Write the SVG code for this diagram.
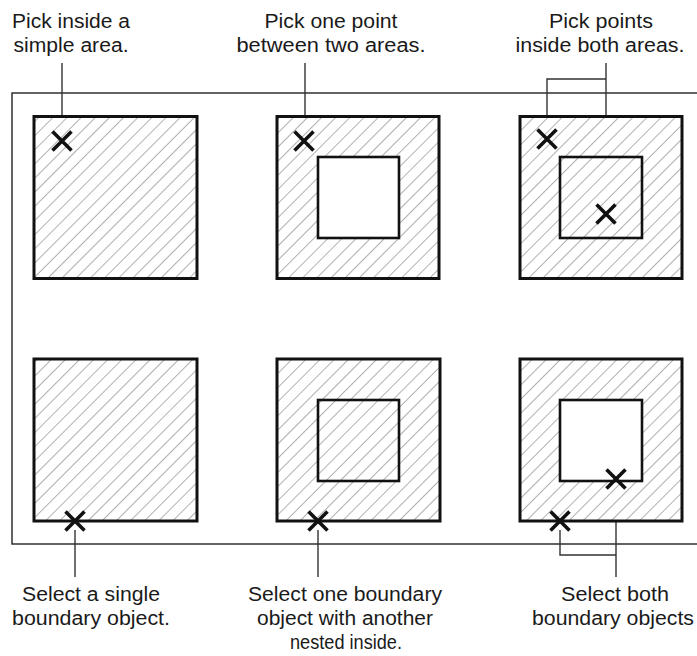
<svg xmlns="http://www.w3.org/2000/svg" width="697" height="656" viewBox="0 0 697 656">
<style>
.lbl{font-family:"Liberation Sans",Arial,sans-serif;font-size:20px;fill:#1a1a1a;text-anchor:middle}
.outer{stroke:#111;stroke-width:3;fill:url(#hatch)}
.hole{stroke:#111;stroke-width:2.6;fill:#fff}
.nest{stroke:#111;stroke-width:2.6;fill:url(#hatch)}
.x{stroke:#111;stroke-width:3.6;stroke-linecap:butt;fill:none}
.lead{stroke:#333;stroke-width:1.4;fill:none}
.frame{stroke:#222;stroke-width:1.4;fill:none}
</style>
<defs>
<pattern id="hatch" patternUnits="userSpaceOnUse" width="10" height="10" patternTransform="rotate(45)">
<rect width="10" height="10" fill="#fff"/>
<line x1="0" y1="-1" x2="0" y2="11" stroke="#6e6e6e" stroke-width="1.1"/>
</pattern>
<path id="xm" d="M-9.5,-9.5L9.5,9.5M-9.5,9.5L9.5,-9.5"/>
</defs>
<rect width="697" height="656" fill="#fff"/>
<rect class="frame" x="12" y="93" width="700" height="451"/>

<g id="connectors">
<path class="lead" d="M62,63V132"/>
<path class="lead" d="M305,63V132"/>
<path class="lead" d="M606,63V205M606,79H547V130"/>
<path class="lead" d="M75,530V577"/>
<path class="lead" d="M318,530V577"/>
<path class="lead" d="M560,530V555H616M616,488V577"/>
</g>

<g id="n1">
<rect class="outer" x="34" y="116.5" width="163" height="162"/>
<use href="#xm" class="x" x="62" y="141"/>
</g>
<g id="n2">
<rect class="outer" x="277" y="116.5" width="162" height="162"/>
<rect class="hole" x="318" y="157" width="81" height="81"/>
<use href="#xm" class="x" x="304" y="141"/>
</g>
<g id="n3">
<rect class="outer" x="520" y="116.5" width="162" height="162"/>
<rect class="nest" x="560" y="157" width="82" height="81"/>
<use href="#xm" class="x" x="547" y="139"/>
<use href="#xm" class="x" x="606" y="214"/>
</g>
<g id="n4">
<rect class="outer" x="34" y="359" width="163" height="162"/>
<use href="#xm" class="x" x="75" y="521"/>
</g>
<g id="n5">
<rect class="outer" x="277" y="359" width="163" height="162"/>
<rect class="nest" x="318" y="400" width="81" height="81"/>
<use href="#xm" class="x" x="318" y="521"/>
</g>
<g id="n6">
<rect class="outer" x="520" y="359" width="162" height="162"/>
<rect class="hole" x="560" y="400" width="82" height="81"/>
<use href="#xm" class="x" x="560" y="521"/>
<use href="#xm" class="x" x="616" y="479"/>
</g>

<g id="labels">
<text class="lbl" x="71" y="28" textLength="118" lengthAdjust="spacingAndGlyphs">Pick inside a</text>
<text class="lbl" x="71" y="52" textLength="115" lengthAdjust="spacingAndGlyphs">simple area.</text>
<text class="lbl" x="331" y="28" textLength="133" lengthAdjust="spacingAndGlyphs">Pick one point</text>
<text class="lbl" x="331" y="52" textLength="189" lengthAdjust="spacingAndGlyphs">between two areas.</text>
<text class="lbl" x="601" y="28" textLength="104" lengthAdjust="spacingAndGlyphs">Pick points</text>
<text class="lbl" x="600" y="52" textLength="169" lengthAdjust="spacingAndGlyphs">inside both areas.</text>
<text class="lbl" x="91" y="601" textLength="138" lengthAdjust="spacingAndGlyphs">Select a single</text>
<text class="lbl" x="91" y="625" textLength="158" lengthAdjust="spacingAndGlyphs">boundary object.</text>
<text class="lbl" x="345" y="601" textLength="194" lengthAdjust="spacingAndGlyphs">Select one boundary</text>
<text class="lbl" x="345" y="625" textLength="176" lengthAdjust="spacingAndGlyphs">object with another</text>
<text class="lbl" x="346" y="649" textLength="112" lengthAdjust="spacingAndGlyphs">nested inside.</text>
<text class="lbl" x="615" y="601" textLength="108" lengthAdjust="spacingAndGlyphs">Select both</text>
<text class="lbl" x="613" y="625" textLength="162" lengthAdjust="spacingAndGlyphs">boundary objects</text>
</g>
</svg>
